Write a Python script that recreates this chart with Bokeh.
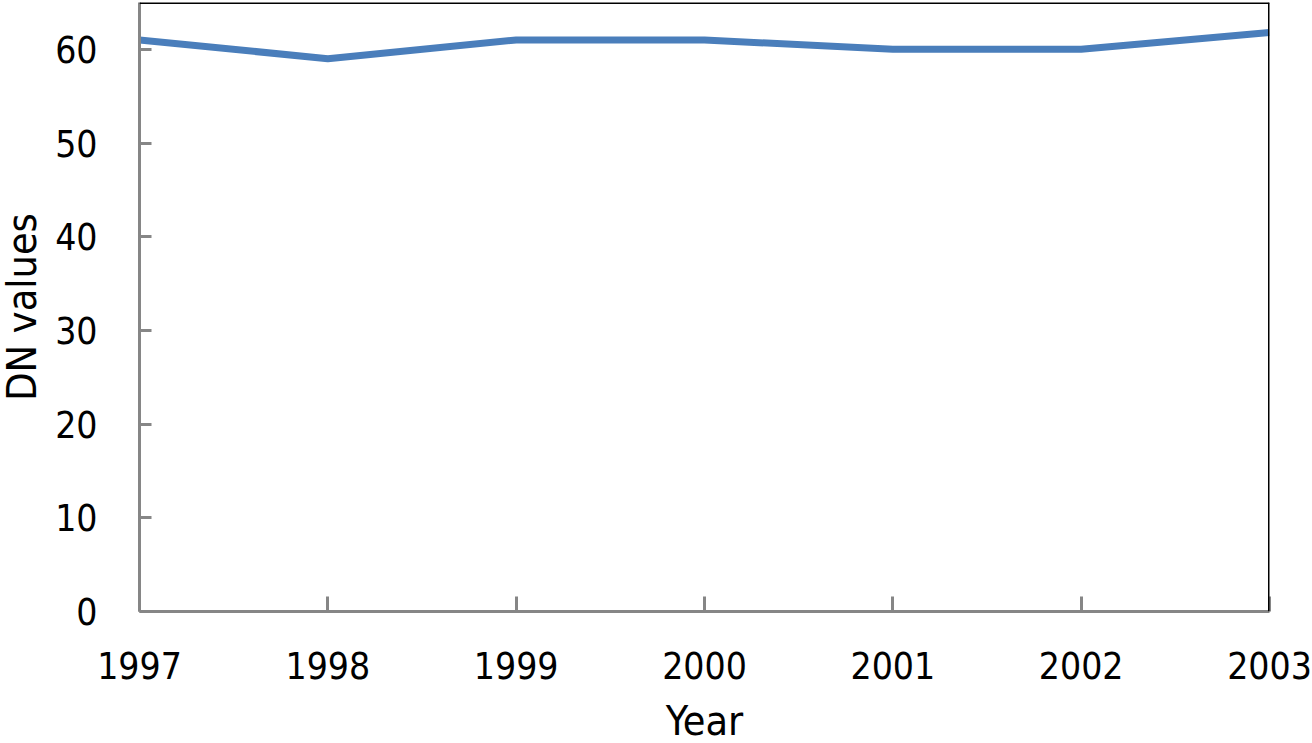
from bokeh.plotting import figure
from bokeh.models import Range1d, FixedTicker, Span
from bokeh.embed import file_html
from bokeh.resources import INLINE

years = [1997, 1998, 1999, 2000, 2001, 2002, 2003]
dn_values = [61, 59, 61, 61, 60, 60, 61.8]
y_ticks = [0, 10, 20, 30, 40, 50, 60]

FONT = "DejaVu Sans Condensed"

p = figure(width=1320, height=751, output_backend="svg", toolbar_location=None,
           x_range=Range1d(1997, 2003), y_range=Range1d(0, 65),
           min_border_left=147, min_border_right=43, min_border_top=5,
           min_border_bottom=137)
p.margin = (-3, -8, -8, -8)

p.line(years, dn_values, line_color="#4a7ebb", line_width=7)

p.xgrid.visible = False
p.ygrid.visible = False
p.outline_line_color = None
p.background_fill_color = "white"
p.border_fill_color = "white"

# black frame on top and right
p.add_layout(Span(location=65, dimension="width", line_color="black", line_width=3))
p.add_layout(Span(location=2003, dimension="height", line_color="black", line_width=3))

for ax in (p.xaxis[0], p.yaxis[0]):
    ax.axis_line_color = "#868686"
    ax.axis_line_width = 3
    ax.major_tick_line_color = "#868686"
    ax.major_tick_line_width = 3
    ax.major_tick_out = 0
    ax.minor_tick_line_color = None
    ax.major_label_text_font = FONT
    ax.major_label_text_font_size = "37px"
    ax.major_label_text_color = "black"
    ax.axis_label_text_font = FONT
    ax.axis_label_text_font_size = "41px"
    ax.axis_label_text_font_style = "normal"
    ax.axis_label_text_color = "black"

p.xaxis.ticker = FixedTicker(ticks=years)
p.xaxis.major_tick_in = 15
p.xaxis.major_label_standoff = 40
p.xaxis.axis_label = "Year"
p.xaxis.axis_label_standoff = 15

p.yaxis.ticker = FixedTicker(ticks=y_ticks)
p.yaxis.major_tick_in = 12
p.yaxis.major_label_standoff = 42
p.yaxis.axis_label = "DN values"
p.yaxis.axis_label_standoff = 6

open("out.html", "w").write(file_html(p, INLINE))
